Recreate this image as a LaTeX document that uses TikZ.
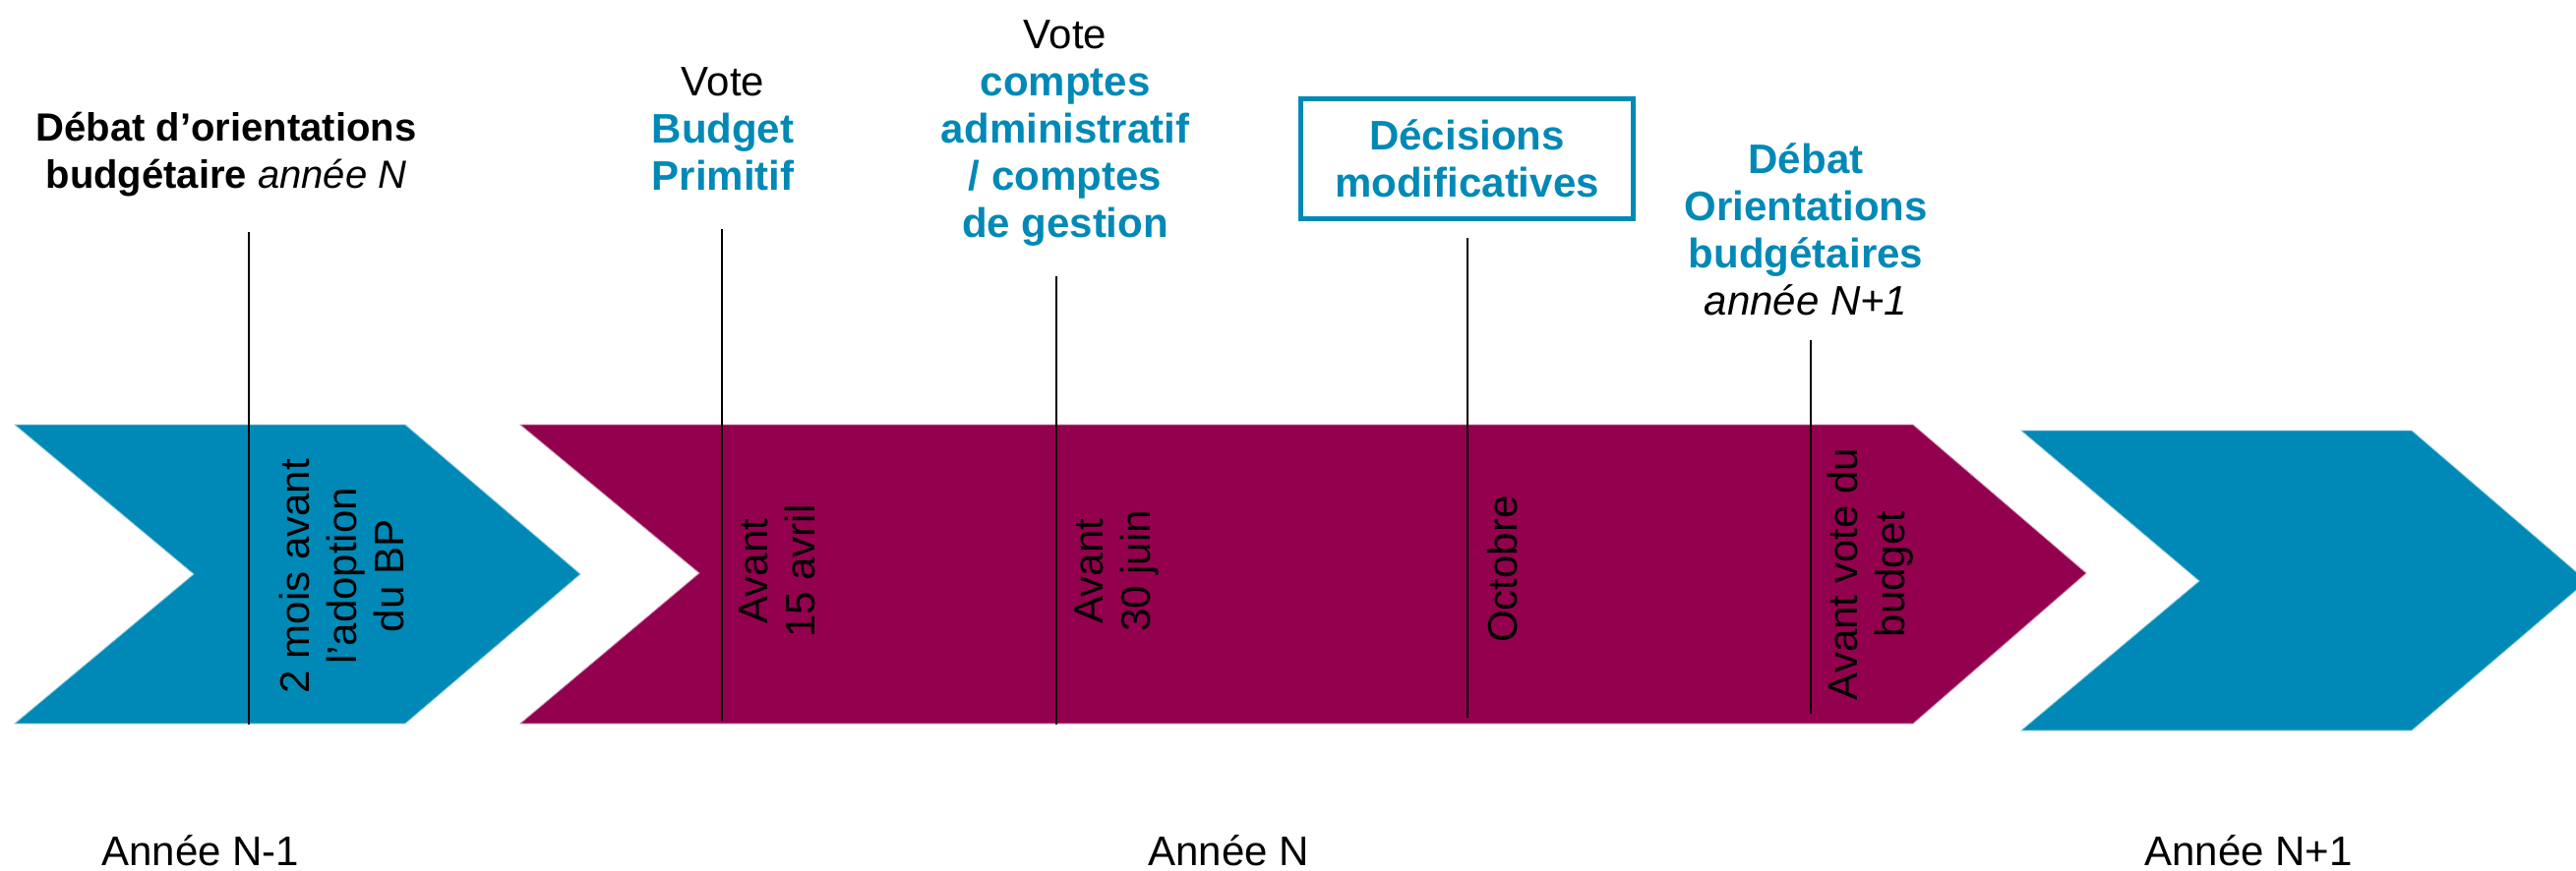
\documentclass[tikz,border=0pt]{standalone}
\usepackage{fontspec}
\setmainfont{Liberation Sans}
\definecolor{cblue}{RGB}{0,137,182}
\definecolor{cmag}{RGB}{147,0,78}
\begin{document}
\begin{tikzpicture}[x=0.5pt,y=-0.5pt,
  chevb/.style={fill=cblue,draw=cblue!45,line width=0.4pt,line join=miter},
  chevm/.style={fill=cmag,draw=cmag!45,line width=0.4pt,line join=miter},
  tick/.style={draw=black,line width=1pt},
  head/.style={font=\fontsize{21}{24}\selectfont\bfseries,text=cblue,align=center,inner sep=0pt,anchor=base},
  vert/.style={font=\fontsize{21}{24}\selectfont,text=black,align=center,inner sep=0pt,rotate=90,anchor=center},
  year/.style={font=\fontsize{21}{24}\selectfont,text=black,inner sep=0pt,anchor=base},
  dbox/.style={draw=cblue,line width=2.5pt,minimum width=169pt,minimum height=61pt,inner sep=0pt,
    font=\fontsize{21}{24}\selectfont\bfseries,text=cblue,align=center}
]
\useasboundingbox (0,0) rectangle (2619,885);
\clip (0,0) rectangle (2619,885);

% chevrons
\path[chevb] (15,432) -- (412,432) -- (590,584) -- (412,736) -- (15,736) -- (197,584) -- cycle;
\path[chevm] (529,432) -- (1945,432) -- (2121,583) -- (1945,736) -- (529,736) -- (711,583) -- cycle;
\path[chevb] (2055,438) -- (2452,438) -- (2630,591) -- (2452,743) -- (2055,743) -- (2236,591) -- cycle;

% ticks
\coordinate (a1) at (252.5,236); \coordinate (b1) at (252.5,737);
\coordinate (a2) at (734,233);   \coordinate (b2) at (734,733);
\coordinate (a3) at (1074,281);  \coordinate (b3) at (1074,737);
\coordinate (a4) at (1492,242);  \coordinate (b4) at (1492,730);
\coordinate (a5) at (1841,346);  \coordinate (b5) at (1841,726);
\draw[tick] (a1) -- (b1);
\draw[tick] (a2) -- (b2);
\draw[tick] (a3) -- (b3);
\draw[tick] (a4) -- (b4);
\draw[tick] (a5) -- (b5);

% headings (anchor base = baseline of last line)
\node[head,text=black,font=\fontsize{20}{24}\selectfont\bfseries] (t1) at (230,191)
  {Débat d’orientations\\budgétaire \textit{\mdseries année N}};
\node[head] (t2) at (735,193)
  {\textcolor{black}{\mdseries Vote}\\Budget\\Primitif};
\node[head] (t3) at (1083,241)
  {\textcolor{black}{\mdseries Vote}\\comptes\\administratif\\/ comptes\\de gestion};
\node[dbox] (t4) at (1491.5,161.5) {Décisions\\modificatives};
\node[head] (t5) at (1836,320)
  {Débat\\Orientations\\budgétaires\\\textcolor{black}{\mdseries\itshape année N+1}};

% rotated labels
\node[vert] (r1) at (347,586) {2 mois avant\\l’adoption\\du BP};
\node[vert] (r2) at (790,581) {Avant\\15 avril};
\node[vert] (r3) at (1135,581) {Avant\\30 juin};
\node[vert] (r4) at (1527,579) {Octobre};
\node[vert] (r5) at (1902,584) {Avant vote du\\budget};

% years
\node[year] (y1) at (204,880) {Année N-1};
\node[year] (y2) at (1249,880) {Année N};
\node[year] (y3) at (2286,880) {Année N+1};
\end{tikzpicture}
\end{document}
